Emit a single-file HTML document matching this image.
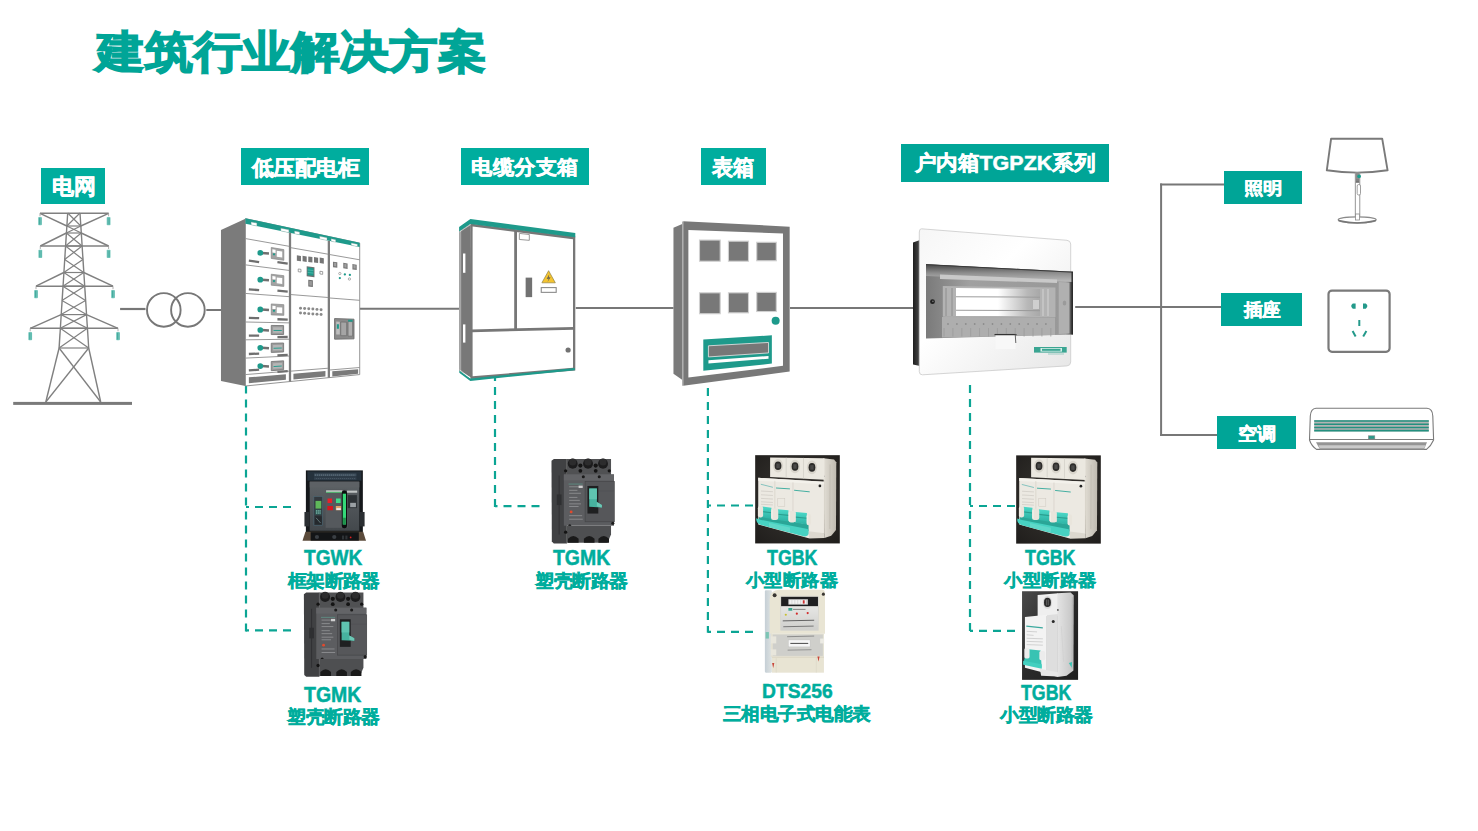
<!DOCTYPE html>
<html><head><meta charset="utf-8"><style>
html,body{margin:0;padding:0;background:#fff;}
body{width:1478px;height:831px;position:relative;overflow:hidden;font-family:"Liberation Sans",sans-serif;}
.bx{position:absolute;}
.t{position:absolute;white-space:nowrap;line-height:1;font-weight:bold;transform-origin:0 0;}
svg{position:absolute;left:0;top:0;}
</style></head><body>

<svg width="1478" height="831" viewBox="0 0 1478 831"><line x1="359.70" y1="308.80" x2="459.00" y2="308.80" stroke="#777" stroke-width="2" /><line x1="575.80" y1="308.00" x2="673.50" y2="308.00" stroke="#777" stroke-width="2" /><line x1="790.00" y1="307.90" x2="913.50" y2="307.90" stroke="#777" stroke-width="2" /><line x1="1161.10" y1="183.50" x2="1161.10" y2="436.00" stroke="#777" stroke-width="2" /><line x1="1160.10" y1="184.40" x2="1225.00" y2="184.40" stroke="#777" stroke-width="2" /><line x1="1160.10" y1="435.00" x2="1218.00" y2="435.00" stroke="#777" stroke-width="2" /><line x1="1075.20" y1="307.00" x2="1222.00" y2="307.00" stroke="#777" stroke-width="2" /><line x1="246.00" y1="385.40" x2="246.00" y2="631.50" stroke="#0BA594" stroke-width="2.2" stroke-dasharray="8 6"/><line x1="291.00" y1="507.00" x2="246.00" y2="507.00" stroke="#0BA594" stroke-width="2.2" stroke-dasharray="8 6"/><line x1="291.00" y1="630.40" x2="246.00" y2="630.40" stroke="#0BA594" stroke-width="2.2" stroke-dasharray="8 6"/><line x1="495.00" y1="373.00" x2="495.00" y2="507.20" stroke="#0BA594" stroke-width="2.2" stroke-dasharray="8 6"/><line x1="539.50" y1="506.20" x2="495.00" y2="506.20" stroke="#0BA594" stroke-width="2.2" stroke-dasharray="8 6"/><line x1="707.90" y1="388.00" x2="707.90" y2="632.80" stroke="#0BA594" stroke-width="2.2" stroke-dasharray="8 6"/><line x1="753.00" y1="505.50" x2="707.90" y2="505.50" stroke="#0BA594" stroke-width="2.2" stroke-dasharray="8 6"/><line x1="753.00" y1="631.80" x2="707.90" y2="631.80" stroke="#0BA594" stroke-width="2.2" stroke-dasharray="8 6"/><line x1="970.00" y1="385.10" x2="970.00" y2="631.80" stroke="#0BA594" stroke-width="2.2" stroke-dasharray="8 6"/><line x1="1015.00" y1="506.00" x2="970.00" y2="506.00" stroke="#0BA594" stroke-width="2.2" stroke-dasharray="8 6"/><line x1="1015.00" y1="630.80" x2="970.00" y2="630.80" stroke="#0BA594" stroke-width="2.2" stroke-dasharray="8 6"/><line x1="67.70" y1="213.00" x2="59.10" y2="348.00" stroke="#808080" stroke-width="1.4" /><line x1="80.00" y1="213.00" x2="88.70" y2="348.00" stroke="#808080" stroke-width="1.4" /><line x1="66.85" y1="226.00" x2="80.82" y2="226.00" stroke="#808080" stroke-width="1.2" /><line x1="66.39" y1="233.00" x2="81.26" y2="233.00" stroke="#808080" stroke-width="1.2" /><line x1="65.54" y1="246.00" x2="82.09" y2="246.00" stroke="#808080" stroke-width="1.2" /><line x1="63.80" y1="272.50" x2="83.76" y2="272.50" stroke="#808080" stroke-width="1.2" /><line x1="62.90" y1="286.20" x2="84.63" y2="286.20" stroke="#808080" stroke-width="1.2" /><line x1="61.12" y1="314.60" x2="86.47" y2="314.60" stroke="#808080" stroke-width="1.2" /><line x1="60.29" y1="328.30" x2="87.39" y2="328.30" stroke="#808080" stroke-width="1.2" /><line x1="59.10" y1="348.00" x2="88.70" y2="348.00" stroke="#808080" stroke-width="1.2" /><line x1="67.70" y1="213.00" x2="80.82" y2="226.00" stroke="#808080" stroke-width="1.2" /><line x1="80.00" y1="213.00" x2="66.85" y2="226.00" stroke="#808080" stroke-width="1.2" /><line x1="66.85" y1="226.00" x2="81.26" y2="233.00" stroke="#808080" stroke-width="1.2" /><line x1="80.82" y1="226.00" x2="66.39" y2="233.00" stroke="#808080" stroke-width="1.2" /><line x1="66.39" y1="233.00" x2="82.09" y2="246.00" stroke="#808080" stroke-width="1.2" /><line x1="81.26" y1="233.00" x2="65.54" y2="246.00" stroke="#808080" stroke-width="1.2" /><line x1="65.54" y1="246.00" x2="82.94" y2="259.50" stroke="#808080" stroke-width="1.2" /><line x1="82.09" y1="246.00" x2="64.65" y2="259.50" stroke="#808080" stroke-width="1.2" /><line x1="64.65" y1="259.50" x2="83.76" y2="272.50" stroke="#808080" stroke-width="1.2" /><line x1="82.94" y1="259.50" x2="63.80" y2="272.50" stroke="#808080" stroke-width="1.2" /><line x1="63.80" y1="272.50" x2="84.63" y2="286.20" stroke="#808080" stroke-width="1.2" /><line x1="83.76" y1="272.50" x2="62.90" y2="286.20" stroke="#808080" stroke-width="1.2" /><line x1="62.90" y1="286.20" x2="85.53" y2="300.40" stroke="#808080" stroke-width="1.2" /><line x1="84.63" y1="286.20" x2="61.98" y2="300.40" stroke="#808080" stroke-width="1.2" /><line x1="61.98" y1="300.40" x2="86.47" y2="314.60" stroke="#808080" stroke-width="1.2" /><line x1="85.53" y1="300.40" x2="61.12" y2="314.60" stroke="#808080" stroke-width="1.2" /><line x1="61.12" y1="314.60" x2="87.39" y2="328.30" stroke="#808080" stroke-width="1.2" /><line x1="86.47" y1="314.60" x2="60.29" y2="328.30" stroke="#808080" stroke-width="1.2" /><line x1="60.29" y1="328.30" x2="88.70" y2="348.00" stroke="#808080" stroke-width="1.2" /><line x1="87.39" y1="328.30" x2="59.10" y2="348.00" stroke="#808080" stroke-width="1.2" /><line x1="40.00" y1="213.30" x2="108.60" y2="213.30" stroke="#808080" stroke-width="1.4" /><line x1="40.00" y1="213.30" x2="66.85" y2="226.00" stroke="#808080" stroke-width="1.4" /><line x1="108.60" y1="213.30" x2="80.82" y2="226.00" stroke="#808080" stroke-width="1.4" /><line x1="40.00" y1="213.30" x2="40.00" y2="216.30" stroke="#9a9a9a" stroke-width="0.8" /><rect x="38.10" y="217.10" width="3.80" height="8.20" fill="#7ccbc0" stroke="none" stroke-width="1" rx="0.8"/><line x1="39.50" y1="217.80" x2="39.50" y2="224.60" stroke="#2f9d90" stroke-width="0.7" /><line x1="40.90" y1="217.80" x2="40.90" y2="224.60" stroke="#2f9d90" stroke-width="0.5" /><line x1="108.60" y1="213.30" x2="108.60" y2="216.30" stroke="#9a9a9a" stroke-width="0.8" /><rect x="106.70" y="217.10" width="3.80" height="8.20" fill="#7ccbc0" stroke="none" stroke-width="1" rx="0.8"/><line x1="108.10" y1="217.80" x2="108.10" y2="224.60" stroke="#2f9d90" stroke-width="0.7" /><line x1="109.50" y1="217.80" x2="109.50" y2="224.60" stroke="#2f9d90" stroke-width="0.5" /><line x1="40.30" y1="246.00" x2="108.60" y2="246.00" stroke="#808080" stroke-width="1.4" /><line x1="40.30" y1="246.00" x2="66.39" y2="233.00" stroke="#808080" stroke-width="1.4" /><line x1="108.60" y1="246.00" x2="81.26" y2="233.00" stroke="#808080" stroke-width="1.4" /><line x1="40.30" y1="246.00" x2="40.30" y2="249.00" stroke="#9a9a9a" stroke-width="0.8" /><rect x="38.40" y="249.80" width="3.80" height="8.20" fill="#7ccbc0" stroke="none" stroke-width="1" rx="0.8"/><line x1="39.80" y1="250.50" x2="39.80" y2="257.30" stroke="#2f9d90" stroke-width="0.7" /><line x1="41.20" y1="250.50" x2="41.20" y2="257.30" stroke="#2f9d90" stroke-width="0.5" /><line x1="108.60" y1="246.00" x2="108.60" y2="249.00" stroke="#9a9a9a" stroke-width="0.8" /><rect x="106.70" y="249.80" width="3.80" height="8.20" fill="#7ccbc0" stroke="none" stroke-width="1" rx="0.8"/><line x1="108.10" y1="250.50" x2="108.10" y2="257.30" stroke="#2f9d90" stroke-width="0.7" /><line x1="109.50" y1="250.50" x2="109.50" y2="257.30" stroke="#2f9d90" stroke-width="0.5" /><line x1="36.00" y1="286.20" x2="113.00" y2="286.20" stroke="#808080" stroke-width="1.4" /><line x1="36.00" y1="286.20" x2="63.80" y2="272.50" stroke="#808080" stroke-width="1.4" /><line x1="113.00" y1="286.20" x2="83.76" y2="272.50" stroke="#808080" stroke-width="1.4" /><line x1="36.00" y1="286.20" x2="36.00" y2="289.20" stroke="#9a9a9a" stroke-width="0.8" /><rect x="34.10" y="290.00" width="3.80" height="8.20" fill="#7ccbc0" stroke="none" stroke-width="1" rx="0.8"/><line x1="35.50" y1="290.70" x2="35.50" y2="297.50" stroke="#2f9d90" stroke-width="0.7" /><line x1="36.90" y1="290.70" x2="36.90" y2="297.50" stroke="#2f9d90" stroke-width="0.5" /><line x1="113.00" y1="286.20" x2="113.00" y2="289.20" stroke="#9a9a9a" stroke-width="0.8" /><rect x="111.10" y="290.00" width="3.80" height="8.20" fill="#7ccbc0" stroke="none" stroke-width="1" rx="0.8"/><line x1="112.50" y1="290.70" x2="112.50" y2="297.50" stroke="#2f9d90" stroke-width="0.7" /><line x1="113.90" y1="290.70" x2="113.90" y2="297.50" stroke="#2f9d90" stroke-width="0.5" /><line x1="30.20" y1="328.30" x2="118.00" y2="328.30" stroke="#808080" stroke-width="1.4" /><line x1="30.20" y1="328.30" x2="61.12" y2="314.60" stroke="#808080" stroke-width="1.4" /><line x1="118.00" y1="328.30" x2="86.47" y2="314.60" stroke="#808080" stroke-width="1.4" /><line x1="30.20" y1="328.30" x2="30.20" y2="331.30" stroke="#9a9a9a" stroke-width="0.8" /><rect x="28.30" y="332.10" width="3.80" height="8.20" fill="#7ccbc0" stroke="none" stroke-width="1" rx="0.8"/><line x1="29.70" y1="332.80" x2="29.70" y2="339.60" stroke="#2f9d90" stroke-width="0.7" /><line x1="31.10" y1="332.80" x2="31.10" y2="339.60" stroke="#2f9d90" stroke-width="0.5" /><line x1="118.00" y1="328.30" x2="118.00" y2="331.30" stroke="#9a9a9a" stroke-width="0.8" /><rect x="116.10" y="332.10" width="3.80" height="8.20" fill="#7ccbc0" stroke="none" stroke-width="1" rx="0.8"/><line x1="117.50" y1="332.80" x2="117.50" y2="339.60" stroke="#2f9d90" stroke-width="0.7" /><line x1="118.90" y1="332.80" x2="118.90" y2="339.60" stroke="#2f9d90" stroke-width="0.5" /><line x1="59.10" y1="348.00" x2="45.80" y2="402.00" stroke="#808080" stroke-width="1.4" /><line x1="88.70" y1="348.00" x2="100.70" y2="402.00" stroke="#808080" stroke-width="1.4" /><line x1="59.10" y1="348.00" x2="100.70" y2="402.00" stroke="#808080" stroke-width="1.3" /><line x1="88.70" y1="348.00" x2="45.80" y2="402.00" stroke="#808080" stroke-width="1.3" /><rect x="13.20" y="401.90" width="118.80" height="3.00" fill="#7a7a7a" stroke="none" stroke-width="1" /><line x1="120.10" y1="309.00" x2="145.50" y2="309.00" stroke="#777" stroke-width="2.2" /><circle cx="163.80" cy="309.90" r="16.80" fill="none" stroke="#777" stroke-width="1.9" /><circle cx="187.90" cy="309.90" r="16.80" fill="none" stroke="#777" stroke-width="1.9" /><line x1="206.30" y1="310.00" x2="222.00" y2="310.00" stroke="#777" stroke-width="2" /><g transform="translate(210,210) scale(0.22857)"><polygon points="48.00,88.00 155.00,38.00 155.00,770.00 48.00,748.00" fill="#7b7b7b" stroke="none" stroke-width="1" /><polygon points="155.00,38.00 655.00,145.00 655.00,720.00 155.00,770.00" fill="#fff" stroke="#8a8a8a" stroke-width="4" /><polygon points="155.00,36.00 655.00,143.00 655.00,162.00 155.00,60.00" fill="#1E9A8B" stroke="none" stroke-width="1" /><polygon points="180.00,52.04 205.00,57.30 205.00,70.19 180.00,65.07" fill="#fff" stroke="#7a9a95" stroke-width="1.5" /><polygon points="310.00,79.37 345.00,86.73 345.00,98.83 310.00,91.67" fill="#fff" stroke="#7a9a95" stroke-width="1.5" /><polygon points="370.00,91.98 392.00,96.61 392.00,108.45 370.00,103.94" fill="#fff" stroke="#7a9a95" stroke-width="1.5" /><polygon points="480.00,115.11 512.00,121.84 512.00,133.00 480.00,126.45" fill="#fff" stroke="#7a9a95" stroke-width="1.5" /><polygon points="530.00,125.62 550.00,129.83 550.00,140.77 530.00,136.68" fill="#fff" stroke="#7a9a95" stroke-width="1.5" /><polygon points="618.00,144.12 645.00,149.80 645.00,160.20 618.00,154.68" fill="#fff" stroke="#7a9a95" stroke-width="1.5" /><line x1="350.00" y1="99.85" x2="350.00" y2="750.50" stroke="#7d7d7d" stroke-width="10" /><line x1="520.00" y1="134.63" x2="520.00" y2="733.50" stroke="#7d7d7d" stroke-width="10" /><line x1="155.00" y1="125.00" x2="346.00" y2="158.75" stroke="#8f8f8f" stroke-width="4" /><line x1="155.00" y1="240.00" x2="346.00" y2="264.32" stroke="#8f8f8f" stroke-width="4" /><line x1="155.00" y1="365.00" x2="346.00" y2="379.08" stroke="#8f8f8f" stroke-width="4" /><line x1="155.00" y1="490.00" x2="346.00" y2="493.84" stroke="#8f8f8f" stroke-width="4" /><line x1="155.00" y1="568.00" x2="346.00" y2="565.45" stroke="#8f8f8f" stroke-width="4" /><line x1="155.00" y1="648.00" x2="346.00" y2="638.90" stroke="#8f8f8f" stroke-width="4" /><line x1="155.00" y1="720.00" x2="346.00" y2="705.00" stroke="#8f8f8f" stroke-width="4" /><line x1="226.00" y1="188.00" x2="258.00" y2="190.00" stroke="#707070" stroke-width="11" /><circle cx="220.00" cy="188.00" r="12.50" fill="#1E9A8B" stroke="none" stroke-width="1" /><polygon points="268.00,164.00 323.00,173.25 323.00,220.06 268.00,212.00" fill="#a3a3a3" stroke="#858585" stroke-width="3" /><polygon points="292.00,178.00 316.00,181.93 316.00,207.64 292.00,204.00" fill="#fff" stroke="none" stroke-width="1" /><polygon points="273.00,172.00 287.00,174.31 287.00,188.22 273.00,186.00" fill="#fff" stroke="none" stroke-width="1" /><circle cx="280.00" cy="194.00" r="5.00" fill="#1E9A8B" stroke="none" stroke-width="1" /><line x1="170.00" y1="222.00" x2="215.00" y2="228.12" stroke="#6f6f6f" stroke-width="10" /><line x1="295.00" y1="228.00" x2="340.00" y2="234.34" stroke="#6f6f6f" stroke-width="10" /><line x1="226.00" y1="305.00" x2="258.00" y2="307.00" stroke="#707070" stroke-width="11" /><circle cx="220.00" cy="305.00" r="12.50" fill="#1E9A8B" stroke="none" stroke-width="1" /><polygon points="268.00,281.00 323.00,287.34 323.00,334.15 268.00,329.00" fill="#a3a3a3" stroke="#858585" stroke-width="3" /><polygon points="292.00,295.00 316.00,297.65 316.00,323.36 292.00,321.00" fill="#fff" stroke="none" stroke-width="1" /><polygon points="273.00,289.00 287.00,290.57 287.00,304.48 273.00,303.00" fill="#fff" stroke="none" stroke-width="1" /><circle cx="280.00" cy="311.00" r="5.00" fill="#1E9A8B" stroke="none" stroke-width="1" /><line x1="170.00" y1="347.00" x2="215.00" y2="350.69" stroke="#6f6f6f" stroke-width="10" /><line x1="295.00" y1="353.00" x2="340.00" y2="356.78" stroke="#6f6f6f" stroke-width="10" /><line x1="226.00" y1="435.00" x2="258.00" y2="437.00" stroke="#707070" stroke-width="11" /><circle cx="220.00" cy="435.00" r="12.50" fill="#1E9A8B" stroke="none" stroke-width="1" /><polygon points="268.00,411.00 323.00,414.12 323.00,460.93 268.00,459.00" fill="#a3a3a3" stroke="#858585" stroke-width="3" /><polygon points="292.00,425.00 316.00,426.22 316.00,451.94 292.00,451.00" fill="#fff" stroke="none" stroke-width="1" /><polygon points="273.00,419.00 287.00,419.75 287.00,433.66 273.00,433.00" fill="#fff" stroke="none" stroke-width="1" /><circle cx="280.00" cy="441.00" r="5.00" fill="#1E9A8B" stroke="none" stroke-width="1" /><line x1="170.00" y1="472.00" x2="215.00" y2="473.26" stroke="#6f6f6f" stroke-width="10" /><line x1="295.00" y1="478.00" x2="340.00" y2="479.21" stroke="#6f6f6f" stroke-width="10" /><line x1="226.00" y1="525.00" x2="258.00" y2="527.00" stroke="#707070" stroke-width="11" /><circle cx="220.00" cy="525.00" r="12.50" fill="#1E9A8B" stroke="none" stroke-width="1" /><polygon points="268.00,505.00 322.00,505.78 322.00,544.80 268.00,545.00" fill="#9a9a9a" stroke="#7a7a7a" stroke-width="4" /><polygon points="276.00,513.00 316.00,513.43 316.00,537.00 276.00,537.00" fill="#b5b5b5" stroke="none" stroke-width="1" /><line x1="278.00" y1="527.00" x2="314.00" y2="527.16" stroke="#1E9A8B" stroke-width="4" /><line x1="170.00" y1="550.00" x2="215.00" y2="549.75" stroke="#6f6f6f" stroke-width="10" /><line x1="295.00" y1="556.00" x2="340.00" y2="555.61" stroke="#6f6f6f" stroke-width="10" /><line x1="226.00" y1="603.00" x2="258.00" y2="605.00" stroke="#707070" stroke-width="11" /><circle cx="220.00" cy="603.00" r="12.50" fill="#1E9A8B" stroke="none" stroke-width="1" /><polygon points="268.00,583.00 322.00,581.88 322.00,620.90 268.00,623.00" fill="#9a9a9a" stroke="#7a7a7a" stroke-width="4" /><polygon points="276.00,591.00 316.00,590.02 316.00,613.59 276.00,615.00" fill="#b5b5b5" stroke="none" stroke-width="1" /><line x1="278.00" y1="605.00" x2="314.00" y2="603.89" stroke="#1E9A8B" stroke-width="4" /><line x1="170.00" y1="630.00" x2="215.00" y2="628.19" stroke="#6f6f6f" stroke-width="10" /><line x1="295.00" y1="636.00" x2="340.00" y2="633.96" stroke="#6f6f6f" stroke-width="10" /><line x1="226.00" y1="683.00" x2="258.00" y2="685.00" stroke="#707070" stroke-width="11" /><circle cx="220.00" cy="683.00" r="12.50" fill="#1E9A8B" stroke="none" stroke-width="1" /><polygon points="268.00,663.00 322.00,659.93 322.00,698.96 268.00,703.00" fill="#9a9a9a" stroke="#7a7a7a" stroke-width="4" /><polygon points="276.00,671.00 316.00,668.57 316.00,692.14 276.00,695.00" fill="#b5b5b5" stroke="none" stroke-width="1" /><line x1="278.00" y1="685.00" x2="314.00" y2="682.59" stroke="#1E9A8B" stroke-width="4" /><line x1="170.00" y1="702.00" x2="215.00" y2="698.79" stroke="#6f6f6f" stroke-width="10" /><line x1="295.00" y1="708.00" x2="340.00" y2="704.49" stroke="#6f6f6f" stroke-width="10" /><polygon points="170.00,732.00 332.00,718.35 332.00,742.53 170.00,758.00" fill="#7a7a7a" stroke="none" stroke-width="1" /><line x1="354.00" y1="165.00" x2="516.00" y2="193.25" stroke="#8f8f8f" stroke-width="4" /><line x1="354.00" y1="370.00" x2="516.00" y2="382.68" stroke="#8f8f8f" stroke-width="4" /><line x1="354.00" y1="705.00" x2="516.00" y2="692.23" stroke="#8f8f8f" stroke-width="4" /><polygon points="380.00,198.00 398.00,200.90 398.00,224.69 380.00,222.00" fill="#767676" stroke="none" stroke-width="1" /><polygon points="405.00,200.50 423.00,203.41 423.00,227.20 405.00,224.50" fill="#767676" stroke="none" stroke-width="1" /><polygon points="430.00,203.00 448.00,205.92 448.00,229.71 430.00,227.00" fill="#767676" stroke="none" stroke-width="1" /><polygon points="455.00,205.50 473.00,208.44 473.00,232.22 455.00,229.50" fill="#767676" stroke="none" stroke-width="1" /><polygon points="480.00,208.00 498.00,210.95 498.00,234.74 480.00,232.00" fill="#767676" stroke="none" stroke-width="1" /><polygon points="386.00,258.00 398.00,259.59 398.00,271.52 386.00,270.00" fill="#fff" stroke="#777" stroke-width="3" /><polygon points="481.00,268.00 493.00,269.61 493.00,281.54 481.00,280.00" fill="#fff" stroke="#777" stroke-width="3" /><polygon points="423.00,246.00 457.00,250.79 457.00,294.07 423.00,290.00" fill="#6f6f6f" stroke="none" stroke-width="1" /><polygon points="427.00,251.00 453.00,254.61 453.00,288.18 427.00,285.00" fill="#1E9A8B" stroke="none" stroke-width="1" /><line x1="427.00" y1="262.00" x2="453.00" y2="265.47" stroke="#7fcfc5" stroke-width="2" /><line x1="427.00" y1="273.00" x2="453.00" y2="276.33" stroke="#7fcfc5" stroke-width="2" /><polygon points="430.00,305.00 450.00,307.26 450.00,336.96 430.00,335.00" fill="#6f6f6f" stroke="none" stroke-width="1" /><polygon points="434.00,310.00 446.00,311.33 446.00,331.21 434.00,330.00" fill="#9a9a9a" stroke="none" stroke-width="1" /><circle cx="396.00" cy="430.00" r="6.50" fill="#8a8a8a" stroke="none" stroke-width="1" /><circle cx="414.00" cy="431.20" r="6.50" fill="#8a8a8a" stroke="none" stroke-width="1" /><circle cx="432.00" cy="432.40" r="6.50" fill="#8a8a8a" stroke="none" stroke-width="1" /><circle cx="450.00" cy="433.60" r="6.50" fill="#8a8a8a" stroke="none" stroke-width="1" /><circle cx="468.00" cy="434.80" r="6.50" fill="#8a8a8a" stroke="none" stroke-width="1" /><circle cx="486.00" cy="436.00" r="6.50" fill="#8a8a8a" stroke="none" stroke-width="1" /><circle cx="396.00" cy="451.00" r="6.50" fill="#8a8a8a" stroke="none" stroke-width="1" /><circle cx="414.00" cy="452.20" r="6.50" fill="#8a8a8a" stroke="none" stroke-width="1" /><circle cx="432.00" cy="453.40" r="6.50" fill="#8a8a8a" stroke="none" stroke-width="1" /><circle cx="450.00" cy="454.60" r="6.50" fill="#8a8a8a" stroke="none" stroke-width="1" /><circle cx="468.00" cy="455.80" r="6.50" fill="#8a8a8a" stroke="none" stroke-width="1" /><circle cx="486.00" cy="457.00" r="6.50" fill="#8a8a8a" stroke="none" stroke-width="1" /><polygon points="365.00,716.00 505.00,704.18 505.00,728.46 365.00,742.00" fill="#7a7a7a" stroke="none" stroke-width="1" /><line x1="524.00" y1="195.00" x2="655.00" y2="217.82" stroke="#8f8f8f" stroke-width="4" /><line x1="524.00" y1="385.00" x2="655.00" y2="395.14" stroke="#8f8f8f" stroke-width="4" /><line x1="524.00" y1="700.00" x2="655.00" y2="689.11" stroke="#8f8f8f" stroke-width="4" /><polygon points="538.00,226.00 557.00,229.03 557.00,252.80 538.00,250.00" fill="#7a7a7a" stroke="none" stroke-width="1" /><polygon points="543.00,231.00 552.00,232.42 552.00,246.35 543.00,245.00" fill="#a0a0a0" stroke="none" stroke-width="1" /><polygon points="583.00,231.00 602.00,234.05 602.00,257.81 583.00,255.00" fill="#7a7a7a" stroke="none" stroke-width="1" /><polygon points="588.00,236.00 597.00,237.43 597.00,251.36 588.00,250.00" fill="#a0a0a0" stroke="none" stroke-width="1" /><polygon points="623.00,236.00 642.00,239.07 642.00,262.82 623.00,260.00" fill="#7a7a7a" stroke="none" stroke-width="1" /><polygon points="628.00,241.00 637.00,242.43 637.00,256.37 628.00,255.00" fill="#a0a0a0" stroke="none" stroke-width="1" /><circle cx="568.00" cy="278.00" r="5.00" fill="#fff" stroke="#777" stroke-width="2.5" /><circle cx="590.00" cy="282.00" r="5.00" fill="#1E9A8B" stroke="none" stroke-width="1" /><circle cx="612.00" cy="284.00" r="5.00" fill="#1E9A8B" stroke="none" stroke-width="1" /><circle cx="568.00" cy="298.00" r="5.00" fill="#1E9A8B" stroke="none" stroke-width="1" /><circle cx="610.00" cy="302.00" r="5.00" fill="#fff" stroke="#777" stroke-width="2.5" /><polygon points="545.00,475.00 630.00,477.71 630.00,563.77 545.00,565.00" fill="#8a8a8a" stroke="#6f6f6f" stroke-width="4" /><polygon points="552.00,488.00 568.00,488.40 568.00,544.93 552.00,545.00" fill="#bdbdbd" stroke="none" stroke-width="1" /><polygon points="555.00,500.00 564.00,500.17 564.00,520.08 555.00,520.00" fill="#1E9A8B" stroke="none" stroke-width="1" /><polygon points="572.00,490.00 598.00,490.64 598.00,549.82 572.00,550.00" fill="#a5a5a5" stroke="#6a6a6a" stroke-width="3" /><polygon points="604.00,488.00 624.00,488.52 624.00,551.84 604.00,552.00" fill="#b0b0b0" stroke="#6a6a6a" stroke-width="3" /><polygon points="604.00,480.00 624.00,480.60 624.00,488.52 604.00,488.00" fill="#1E9A8B" stroke="none" stroke-width="1" /><polygon points="535.00,706.00 648.00,696.21 648.00,716.93 535.00,728.00" fill="#7a7a7a" stroke="none" stroke-width="1" /></g><polygon points="459.10,231.00 470.60,224.00 471.80,378.00 459.30,370.50" fill="#787878" stroke="none" stroke-width="1" /><polygon points="459.10,231.00 461.20,229.50 461.20,371.50 459.30,370.50" fill="#a8a8a8" stroke="none" stroke-width="1" /><polygon points="470.40,223.50 575.30,236.50 575.30,370.50 470.40,379.00" fill="#777" stroke="none" stroke-width="1" /><polygon points="472.60,226.60 573.00,239.30 573.00,367.80 472.60,376.30" fill="#fff" stroke="none" stroke-width="1" /><polygon points="459.10,227.00 470.40,219.10 575.30,233.00 575.30,237.20 470.40,224.10 459.10,231.50" fill="#1E9A8B" stroke="none" stroke-width="1" /><line x1="459.60" y1="231.80" x2="470.60" y2="224.60" stroke="#ffffff" stroke-width="0.6" /><polygon points="459.30,370.40 470.30,378.60 574.80,368.00 574.80,370.30 470.30,380.90 459.30,372.80" fill="#1E9A8B" stroke="none" stroke-width="1" /><line x1="459.80" y1="370.00" x2="470.30" y2="377.80" stroke="#ffffff" stroke-width="0.6" /><rect x="463.00" y="253.50" width="2.40" height="19.30" fill="#fff" stroke="none" stroke-width="1" /><rect x="463.00" y="324.40" width="2.40" height="18.20" fill="#fff" stroke="none" stroke-width="1" /><line x1="515.60" y1="231.00" x2="515.60" y2="330.00" stroke="#777" stroke-width="2.8" /><line x1="471.50" y1="330.80" x2="574.00" y2="328.30" stroke="#777" stroke-width="2.8" /><g transform="translate(450,210) scale(0.21673)"><polygon points="320.00,108.00 366.00,113.00 366.00,140.00 320.00,136.00" fill="#fff" stroke="#888" stroke-width="4" /><rect x="349.00" y="312.00" width="30.00" height="90.00" fill="#727272" stroke="none" stroke-width="1" /><polygon points="424.00,336.00 455.00,280.00 486.00,336.00" fill="#F4C430" stroke="#8a7a40" stroke-width="3" stroke-linejoin="round"/><polygon points="458.00,296.00 446.00,318.00 456.00,316.00 450.00,332.00 464.00,310.00 455.00,312.00" fill="#555" stroke="none" stroke-width="1" /><rect x="421.00" y="358.00" width="69.00" height="22.00" fill="#fff" stroke="#8a8a8a" stroke-width="5" /><circle cx="545.00" cy="646.00" r="12.00" fill="#727272" stroke="none" stroke-width="1" /></g><g transform="translate(665,210) scale(0.22262)"><polygon points="38.00,80.00 80.00,62.00 80.00,765.00 38.00,735.00" fill="#7a7a7a" stroke="none" stroke-width="1" /><line x1="79.00" y1="52.00" x2="79.00" y2="790.00" stroke="#b0b0b0" stroke-width="5" /><polygon points="82.00,50.00 560.00,75.00 560.00,725.00 82.00,790.00" fill="#787878" stroke="none" stroke-width="1" /><polygon points="105.00,90.00 530.00,105.00 530.00,700.00 105.00,752.00" fill="#fff" stroke="none" stroke-width="1" /><rect x="155.00" y="135.00" width="93.00" height="95.00" fill="#787878" stroke="#d0d0d0" stroke-width="5" /><rect x="285.00" y="140.00" width="90.00" height="90.00" fill="#787878" stroke="#d0d0d0" stroke-width="5" /><rect x="412.00" y="145.00" width="88.00" height="83.00" fill="#787878" stroke="#d0d0d0" stroke-width="5" /><rect x="155.00" y="372.00" width="93.00" height="94.00" fill="#787878" stroke="#d0d0d0" stroke-width="5" /><rect x="285.00" y="372.00" width="90.00" height="90.00" fill="#787878" stroke="#d0d0d0" stroke-width="5" /><rect x="412.00" y="370.00" width="88.00" height="86.00" fill="#787878" stroke="#d0d0d0" stroke-width="5" /><circle cx="497.00" cy="497.00" r="18.00" fill="#1E9A8B" stroke="none" stroke-width="1" /><polygon points="172.00,582.00 480.00,563.00 480.00,690.00 172.00,722.00" fill="#1E9A8B" stroke="none" stroke-width="1" /><polygon points="195.00,610.00 465.00,595.00 465.00,642.00 195.00,660.00" fill="#777" stroke="#ddd" stroke-width="4" /><polygon points="195.00,675.00 465.00,656.00 465.00,668.00 195.00,690.00" fill="#fff" stroke="none" stroke-width="1" /></g><defs>
    <linearGradient id="ibw" x1="0" y1="0" x2="1" y2="1"><stop offset="0" stop-color="#f6f6f6"/><stop offset="0.4" stop-color="#ffffff"/><stop offset="1" stop-color="#e6e6e6"/></linearGradient>
    <linearGradient id="ibtop" x1="0" y1="0" x2="0" y2="1"><stop offset="0" stop-color="#444"/><stop offset="0.5" stop-color="#8e8e8e"/><stop offset="1" stop-color="#bdbdbd"/></linearGradient>
    <linearGradient id="ibin" x1="0" y1="0" x2="1" y2="0"><stop offset="0" stop-color="#7a7a7a"/><stop offset="0.3" stop-color="#a0a0a0"/><stop offset="0.95" stop-color="#989898"/><stop offset="1" stop-color="#3a3a3a"/></linearGradient>
    <linearGradient id="ibl" x1="0" y1="0" x2="1" y2="0"><stop offset="0" stop-color="#ffffff"/><stop offset="0.5" stop-color="#ffffff"/><stop offset="0.85" stop-color="#b8b8b8"/><stop offset="1" stop-color="#a8a8a8"/></linearGradient>
    <linearGradient id="ibs" x1="0" y1="0" x2="1" y2="0"><stop offset="0" stop-color="#1e1e1e"/><stop offset="1" stop-color="#4a4a4a"/></linearGradient>
    </defs><polygon points="913.00,242.50 920.00,240.00 920.00,366.00 913.00,364.50" fill="url(#ibs)" stroke="none" stroke-width="1" /><path d="M921.5,228.8 L1067,240.3 Q1070.6,240.8 1070.7,244 L1070.7,362 Q1070.6,365.6 1067,365.9 L922.5,374.8 Q919.3,375 919.3,371.5 L919.3,232 Q919.4,228.6 921.5,228.8 Z" fill="url(#ibw)" stroke="#cfcfcf" stroke-width="0.9"/><polygon points="926.00,264.20 1073.00,271.80 1073.00,334.60 926.00,338.40" fill="url(#ibin)" stroke="none" stroke-width="1" /><polygon points="926.00,264.20 1073.00,271.80 1073.00,282.00 926.00,276.00" fill="url(#ibtop)" stroke="none" stroke-width="1" /><line x1="926.00" y1="264.60" x2="1073.00" y2="272.20" stroke="#3a3a3a" stroke-width="1" /><polygon points="940.00,274.50 1057.00,279.50 1057.00,283.00 940.00,279.00" fill="#c9c9c9" stroke="none" stroke-width="1" /><polygon points="942.80,285.90 1055.40,287.50 1055.40,317.00 942.80,316.80" fill="#b3b3b3" stroke="none" stroke-width="1" /><polygon points="956.00,288.00 1040.00,289.00 1040.00,316.00 956.00,316.00" fill="url(#ibl)" stroke="none" stroke-width="1" /><line x1="956.00" y1="296.70" x2="1040.00" y2="297.20" stroke="#9c9c9c" stroke-width="1.1" /><line x1="956.00" y1="310.30" x2="1040.00" y2="310.60" stroke="#9c9c9c" stroke-width="1.1" /><line x1="946.00" y1="288.00" x2="946.00" y2="316.00" stroke="#8a8a8a" stroke-width="0.9" /><line x1="952.00" y1="288.00" x2="952.00" y2="316.00" stroke="#8a8a8a" stroke-width="0.9" /><line x1="1043.00" y1="289.00" x2="1043.00" y2="316.00" stroke="#c8c8c8" stroke-width="1.5" /><line x1="1048.00" y1="289.00" x2="1048.00" y2="316.00" stroke="#c8c8c8" stroke-width="1.5" /><rect x="1033.00" y="300.00" width="6.00" height="9.00" fill="#cfcfcf" stroke="none" stroke-width="1" /><polygon points="942.00,317.00 1055.00,317.50 1055.00,335.00 942.00,337.50" fill="#aeaeae" stroke="none" stroke-width="1" /><line x1="944.00" y1="328.00" x2="944.00" y2="336.50" stroke="#9a9a9a" stroke-width="0.8" /><line x1="952.90" y1="328.00" x2="952.90" y2="336.50" stroke="#9a9a9a" stroke-width="0.8" /><line x1="961.80" y1="328.00" x2="961.80" y2="336.50" stroke="#9a9a9a" stroke-width="0.8" /><line x1="970.70" y1="328.00" x2="970.70" y2="336.50" stroke="#9a9a9a" stroke-width="0.8" /><line x1="979.60" y1="328.00" x2="979.60" y2="336.50" stroke="#9a9a9a" stroke-width="0.8" /><line x1="988.50" y1="328.00" x2="988.50" y2="336.50" stroke="#9a9a9a" stroke-width="0.8" /><line x1="997.40" y1="328.00" x2="997.40" y2="336.50" stroke="#9a9a9a" stroke-width="0.8" /><line x1="1006.30" y1="328.00" x2="1006.30" y2="336.50" stroke="#9a9a9a" stroke-width="0.8" /><line x1="1015.20" y1="328.00" x2="1015.20" y2="336.50" stroke="#9a9a9a" stroke-width="0.8" /><line x1="1024.10" y1="328.00" x2="1024.10" y2="336.50" stroke="#9a9a9a" stroke-width="0.8" /><line x1="1033.00" y1="328.00" x2="1033.00" y2="336.50" stroke="#9a9a9a" stroke-width="0.8" /><line x1="1041.90" y1="328.00" x2="1041.90" y2="336.50" stroke="#9a9a9a" stroke-width="0.8" /><line x1="1050.80" y1="328.00" x2="1050.80" y2="336.50" stroke="#9a9a9a" stroke-width="0.8" /><circle cx="948.00" cy="324.00" r="0.90" fill="#8c8c8c" stroke="none" stroke-width="1" /><circle cx="956.90" cy="324.00" r="0.90" fill="#8c8c8c" stroke="none" stroke-width="1" /><circle cx="965.80" cy="324.00" r="0.90" fill="#8c8c8c" stroke="none" stroke-width="1" /><circle cx="974.70" cy="324.00" r="0.90" fill="#8c8c8c" stroke="none" stroke-width="1" /><circle cx="983.60" cy="324.00" r="0.90" fill="#8c8c8c" stroke="none" stroke-width="1" /><circle cx="992.50" cy="324.00" r="0.90" fill="#8c8c8c" stroke="none" stroke-width="1" /><circle cx="1001.40" cy="324.00" r="0.90" fill="#8c8c8c" stroke="none" stroke-width="1" /><circle cx="1010.30" cy="324.00" r="0.90" fill="#8c8c8c" stroke="none" stroke-width="1" /><circle cx="1019.20" cy="324.00" r="0.90" fill="#8c8c8c" stroke="none" stroke-width="1" /><circle cx="1028.10" cy="324.00" r="0.90" fill="#8c8c8c" stroke="none" stroke-width="1" /><circle cx="1037.00" cy="324.00" r="0.90" fill="#8c8c8c" stroke="none" stroke-width="1" /><circle cx="1045.90" cy="324.00" r="0.90" fill="#8c8c8c" stroke="none" stroke-width="1" /><polygon points="1058.70,282.00 1069.50,282.50 1069.50,333.50 1058.70,334.00" fill="#b0b0b0" stroke="none" stroke-width="1" /><line x1="1072.20" y1="272.00" x2="1072.20" y2="334.60" stroke="#2a2a2a" stroke-width="1.4" /><ellipse cx="1064.5" cy="303" rx="1.8" ry="2.6" fill="#9a9a9a"/><circle cx="932.50" cy="301.70" r="2.40" fill="#1e1e1e" stroke="none" stroke-width="1" /><circle cx="932.90" cy="301.40" r="0.80" fill="#777" stroke="none" stroke-width="1" /><rect x="995.50" y="334.50" width="20.00" height="14.50" fill="#f8f8f8" stroke="none" stroke-width="1" /><line x1="994.50" y1="334.60" x2="1016.50" y2="334.60" stroke="#333" stroke-width="1.3" /><line x1="1015.20" y1="334.00" x2="1015.80" y2="343.00" stroke="#555" stroke-width="0.9" /><rect x="1034.00" y="347.00" width="32.70" height="5.60" fill="#3aa592" stroke="none" stroke-width="1" /><rect x="1040.50" y="348.00" width="21.50" height="3.60" fill="#d8efe9" stroke="none" stroke-width="1" /><rect x="1042.00" y="348.80" width="18.50" height="2.00" fill="#3aa592" stroke="none" stroke-width="1" /><line x1="1048.00" y1="354.00" x2="1064.00" y2="354.00" stroke="#7bbfb2" stroke-width="0.7" /><path d="M1331.1,138.7 L1382.2,138.7 L1387.6,170.3 Q1357,175 1326.8,170.3 Z" fill="#fff" stroke="#7a7a7a" stroke-width="1.9" stroke-linejoin="round"/><rect x="1355.30" y="172.50" width="4.50" height="47.00" fill="#fff" stroke="#8a8a8a" stroke-width="0.9" /><rect x="1355.60" y="173.00" width="3.90" height="10.00" fill="#8c8c8c" stroke="none" stroke-width="1" /><line x1="1356.00" y1="180.00" x2="1359.00" y2="180.00" stroke="#666" stroke-width="0.6" /><line x1="1356.00" y1="181.50" x2="1359.00" y2="181.50" stroke="#666" stroke-width="0.6" /><circle cx="1359.10" cy="176.30" r="1.90" fill="#1aa08f" stroke="none" stroke-width="1" /><rect x="1357.20" y="184.50" width="3.30" height="10.50" fill="#fff" stroke="#8a8a8a" stroke-width="0.8" rx="1.5"/><ellipse cx="1357.2" cy="219.8" rx="19" ry="3" fill="#fff" stroke="#8a8a8a" stroke-width="1.2"/><path d="M1338.5,220.5 Q1357.2,225.5 1375.9,220.5" fill="none" stroke="#777" stroke-width="1.6"/><rect x="1355.60" y="214.00" width="3.90" height="6.00" fill="#fff" stroke="#8a8a8a" stroke-width="0.8" /><rect x="1328.50" y="290.60" width="61.10" height="61.20" fill="#fff" stroke="#7a7a7a" stroke-width="2.2" rx="3.5"/><path d="M1355.6,303.6 L1352.8,303.6 Q1349.6,306.1 1352.8,308.8 L1355.6,308.8 Z" fill="#23998a"/><path d="M1363.0,303.6 L1365.8,303.6 Q1369.0,306.1 1365.8,308.8 L1363.0,308.8 Z" fill="#23998a"/><line x1="1359.30" y1="320.00" x2="1359.30" y2="326.00" stroke="#23998a" stroke-width="2" /><line x1="1352.60" y1="331.00" x2="1355.60" y2="336.40" stroke="#23998a" stroke-width="2" /><line x1="1366.40" y1="331.00" x2="1363.20" y2="336.40" stroke="#23998a" stroke-width="2" /><path d="M1316,408.3 L1427,408.3 Q1432.5,408.6 1432.8,416 L1433.6,440 Q1431,446 1426.5,449.4 L1316.5,449.4 Q1311.5,446 1309.5,440 L1310.3,416 Q1310.8,408.6 1316,408.3 Z" fill="#fff" stroke="#7a7a7a" stroke-width="1.1"/><rect x="1314.20" y="420.20" width="114.60" height="11.20" fill="#b3b3b3" stroke="none" stroke-width="1" /><line x1="1314.20" y1="421.00" x2="1428.80" y2="421.00" stroke="#23907f" stroke-width="1.6" /><line x1="1314.20" y1="424.30" x2="1428.80" y2="424.30" stroke="#23907f" stroke-width="1.6" /><line x1="1314.20" y1="427.50" x2="1428.80" y2="427.50" stroke="#23907f" stroke-width="1.6" /><line x1="1314.20" y1="430.60" x2="1428.80" y2="430.60" stroke="#23907f" stroke-width="1.6" /><rect x="1368.40" y="435.80" width="6.40" height="3.20" fill="#2a9a8a" stroke="#8a8a8a" stroke-width="0.6" /><line x1="1309.80" y1="439.50" x2="1433.40" y2="439.50" stroke="#7e7e7e" stroke-width="1" /><polygon points="1316.00,442.20 1427.00,442.20 1424.00,449.40 1320.00,449.40" fill="#949494" stroke="none" stroke-width="1" /><polygon points="1318.50,445.20 1425.50,445.20 1424.30,448.20 1319.70,448.20" fill="#c9c9c9" stroke="none" stroke-width="1" /><g transform="translate(290,460) scale(0.09625)"><defs><linearGradient id="acbp" x1="0" y1="0" x2="0" y2="1"><stop offset="0" stop-color="#5d6266"/><stop offset="1" stop-color="#43484c"/></linearGradient></defs><rect x="165.00" y="108.00" width="592.00" height="652.00" fill="#15181b" stroke="none" stroke-width="1" /><rect x="180.00" y="118.00" width="562.00" height="97.00" fill="#25313c" stroke="none" stroke-width="1" /><rect x="250.00" y="140.00" width="440.00" height="30.00" fill="#3d4d5b" stroke="none" stroke-width="1" /><rect x="250.00" y="180.00" width="440.00" height="25.00" fill="#34424f" stroke="none" stroke-width="1" /><circle cx="265.00" cy="155.00" r="5.00" fill="#8c9aa5" stroke="none" stroke-width="1" /><circle cx="273.00" cy="193.00" r="4.00" fill="#6c7a85" stroke="none" stroke-width="1" /><circle cx="286.00" cy="155.00" r="5.00" fill="#8c9aa5" stroke="none" stroke-width="1" /><circle cx="294.00" cy="193.00" r="4.00" fill="#6c7a85" stroke="none" stroke-width="1" /><circle cx="307.00" cy="155.00" r="5.00" fill="#8c9aa5" stroke="none" stroke-width="1" /><circle cx="315.00" cy="193.00" r="4.00" fill="#6c7a85" stroke="none" stroke-width="1" /><circle cx="328.00" cy="155.00" r="5.00" fill="#8c9aa5" stroke="none" stroke-width="1" /><circle cx="336.00" cy="193.00" r="4.00" fill="#6c7a85" stroke="none" stroke-width="1" /><circle cx="349.00" cy="155.00" r="5.00" fill="#8c9aa5" stroke="none" stroke-width="1" /><circle cx="357.00" cy="193.00" r="4.00" fill="#6c7a85" stroke="none" stroke-width="1" /><circle cx="370.00" cy="155.00" r="5.00" fill="#8c9aa5" stroke="none" stroke-width="1" /><circle cx="378.00" cy="193.00" r="4.00" fill="#6c7a85" stroke="none" stroke-width="1" /><circle cx="391.00" cy="155.00" r="5.00" fill="#8c9aa5" stroke="none" stroke-width="1" /><circle cx="399.00" cy="193.00" r="4.00" fill="#6c7a85" stroke="none" stroke-width="1" /><circle cx="412.00" cy="155.00" r="5.00" fill="#8c9aa5" stroke="none" stroke-width="1" /><circle cx="420.00" cy="193.00" r="4.00" fill="#6c7a85" stroke="none" stroke-width="1" /><circle cx="433.00" cy="155.00" r="5.00" fill="#8c9aa5" stroke="none" stroke-width="1" /><circle cx="441.00" cy="193.00" r="4.00" fill="#6c7a85" stroke="none" stroke-width="1" /><circle cx="454.00" cy="155.00" r="5.00" fill="#8c9aa5" stroke="none" stroke-width="1" /><circle cx="462.00" cy="193.00" r="4.00" fill="#6c7a85" stroke="none" stroke-width="1" /><circle cx="475.00" cy="155.00" r="5.00" fill="#8c9aa5" stroke="none" stroke-width="1" /><circle cx="483.00" cy="193.00" r="4.00" fill="#6c7a85" stroke="none" stroke-width="1" /><circle cx="496.00" cy="155.00" r="5.00" fill="#8c9aa5" stroke="none" stroke-width="1" /><circle cx="504.00" cy="193.00" r="4.00" fill="#6c7a85" stroke="none" stroke-width="1" /><circle cx="517.00" cy="155.00" r="5.00" fill="#8c9aa5" stroke="none" stroke-width="1" /><circle cx="525.00" cy="193.00" r="4.00" fill="#6c7a85" stroke="none" stroke-width="1" /><circle cx="538.00" cy="155.00" r="5.00" fill="#8c9aa5" stroke="none" stroke-width="1" /><circle cx="546.00" cy="193.00" r="4.00" fill="#6c7a85" stroke="none" stroke-width="1" /><circle cx="559.00" cy="155.00" r="5.00" fill="#8c9aa5" stroke="none" stroke-width="1" /><circle cx="567.00" cy="193.00" r="4.00" fill="#6c7a85" stroke="none" stroke-width="1" /><circle cx="580.00" cy="155.00" r="5.00" fill="#8c9aa5" stroke="none" stroke-width="1" /><circle cx="588.00" cy="193.00" r="4.00" fill="#6c7a85" stroke="none" stroke-width="1" /><circle cx="601.00" cy="155.00" r="5.00" fill="#8c9aa5" stroke="none" stroke-width="1" /><circle cx="609.00" cy="193.00" r="4.00" fill="#6c7a85" stroke="none" stroke-width="1" /><circle cx="622.00" cy="155.00" r="5.00" fill="#8c9aa5" stroke="none" stroke-width="1" /><circle cx="630.00" cy="193.00" r="4.00" fill="#6c7a85" stroke="none" stroke-width="1" /><circle cx="643.00" cy="155.00" r="5.00" fill="#8c9aa5" stroke="none" stroke-width="1" /><circle cx="651.00" cy="193.00" r="4.00" fill="#6c7a85" stroke="none" stroke-width="1" /><circle cx="664.00" cy="155.00" r="5.00" fill="#8c9aa5" stroke="none" stroke-width="1" /><circle cx="672.00" cy="193.00" r="4.00" fill="#6c7a85" stroke="none" stroke-width="1" /><rect x="205.00" y="225.00" width="515.00" height="510.00" fill="url(#acbp)" stroke="none" stroke-width="1" /><rect x="205.00" y="225.00" width="515.00" height="60.00" fill="#5d6165" stroke="none" stroke-width="1" /><rect x="248.00" y="380.00" width="90.00" height="302.00" fill="#33393e" stroke="#4d6a78" stroke-width="6" /><rect x="265.00" y="425.00" width="60.00" height="80.00" fill="#5fb85a" stroke="none" stroke-width="1" /><rect x="262.00" y="515.00" width="63.00" height="53.00" fill="#2f5d5a" stroke="none" stroke-width="1" /><rect x="270.00" y="522.00" width="12.00" height="14.00" fill="#7fb5a8" stroke="none" stroke-width="1" /><rect x="288.00" y="522.00" width="12.00" height="14.00" fill="#7fb5a8" stroke="none" stroke-width="1" /><rect x="306.00" y="522.00" width="12.00" height="14.00" fill="#7fb5a8" stroke="none" stroke-width="1" /><rect x="270.00" y="544.00" width="12.00" height="14.00" fill="#7fb5a8" stroke="none" stroke-width="1" /><rect x="288.00" y="544.00" width="12.00" height="14.00" fill="#7fb5a8" stroke="none" stroke-width="1" /><rect x="306.00" y="544.00" width="12.00" height="14.00" fill="#7fb5a8" stroke="none" stroke-width="1" /><rect x="258.00" y="585.00" width="72.00" height="85.00" fill="#24292d" stroke="none" stroke-width="1" /><line x1="270.00" y1="600.00" x2="318.00" y2="655.00" stroke="#8aa" stroke-width="6" /><rect x="370.00" y="305.00" width="228.00" height="400.00" fill="#55595d" stroke="none" stroke-width="1" /><rect x="375.00" y="315.00" width="170.00" height="25.00" fill="#c8cccc" stroke="none" stroke-width="1" /><rect x="375.00" y="330.00" width="170.00" height="12.00" fill="#4caf6a" stroke="none" stroke-width="1" /><rect x="592.00" y="318.00" width="106.00" height="22.00" fill="#c0c4c4" stroke="none" stroke-width="1" /><rect x="390.00" y="400.00" width="47.00" height="47.00" fill="#e8202a" stroke="none" stroke-width="1" /><rect x="478.00" y="400.00" width="48.00" height="47.00" fill="#3fdc8a" stroke="none" stroke-width="1" /><rect x="388.00" y="478.00" width="58.00" height="44.00" fill="#d8151e" stroke="none" stroke-width="1" /><rect x="476.00" y="478.00" width="56.00" height="44.00" fill="#e0a36a" stroke="none" stroke-width="1" /><rect x="482.00" y="500.00" width="46.00" height="20.00" fill="#e8e8e8" stroke="none" stroke-width="1" /><rect x="538.00" y="318.00" width="54.00" height="392.00" fill="#0b0d0e" stroke="none" stroke-width="1" rx="25"/><rect x="548.00" y="350.00" width="34.00" height="320.00" fill="#34d978" stroke="none" stroke-width="1" /><rect x="552.00" y="600.00" width="28.00" height="70.00" fill="#1f8f4a" stroke="none" stroke-width="1" /><rect x="600.00" y="365.00" width="95.00" height="135.00" fill="#2d3236" stroke="none" stroke-width="1" /><rect x="625.00" y="445.00" width="60.00" height="45.00" fill="#9aa0a4" stroke="none" stroke-width="1" /><rect x="150.00" y="540.00" width="50.00" height="150.00" fill="#2a2e32" stroke="none" stroke-width="1" /><rect x="725.00" y="540.00" width="50.00" height="150.00" fill="#2a2e32" stroke="none" stroke-width="1" /><polygon points="130.00,838.00 160.00,745.00 760.00,745.00 790.00,838.00" fill="#5b4b3b" stroke="none" stroke-width="1" /><rect x="215.00" y="750.00" width="500.00" height="88.00" fill="#131517" stroke="none" stroke-width="1" /><circle cx="280.00" cy="800.00" r="22.00" fill="#3a3f44" stroke="none" stroke-width="1" /><circle cx="460.00" cy="800.00" r="22.00" fill="#3a3f44" stroke="none" stroke-width="1" /><rect x="540.00" y="785.00" width="22.00" height="40.00" fill="#2e3337" stroke="none" stroke-width="1" /><rect x="575.00" y="785.00" width="22.00" height="40.00" fill="#2e3337" stroke="none" stroke-width="1" /><circle cx="630.00" cy="805.00" r="9.00" fill="#e02020" stroke="none" stroke-width="1" /></g><g transform="translate(545,452) scale(0.11792)"><polygon points="55.00,75.00 75.00,60.00 185.00,60.00 185.00,775.00 75.00,775.00 58.00,760.00" fill="#404143" stroke="none" stroke-width="1" /><line x1="185.00" y1="60.00" x2="185.00" y2="775.00" stroke="#5a5b5d" stroke-width="5" /><line x1="120.00" y1="200.00" x2="120.00" y2="700.00" stroke="#2a2b2d" stroke-width="6" /><rect x="100.00" y="360.00" width="40.00" height="90.00" fill="#2e2f31" stroke="none" stroke-width="1" /><polygon points="185.00,60.00 560.00,60.00 560.00,195.00 185.00,195.00" fill="#505153" stroke="none" stroke-width="1" /><circle cx="235.00" cy="100.00" r="42.00" fill="#1c1c1d" stroke="none" stroke-width="1" /><circle cx="235.00" cy="85.00" r="30.00" fill="#2c2c2d" stroke="none" stroke-width="1" /><circle cx="365.00" cy="100.00" r="42.00" fill="#1c1c1d" stroke="none" stroke-width="1" /><circle cx="365.00" cy="85.00" r="30.00" fill="#2c2c2d" stroke="none" stroke-width="1" /><circle cx="492.00" cy="100.00" r="42.00" fill="#1c1c1d" stroke="none" stroke-width="1" /><circle cx="492.00" cy="85.00" r="30.00" fill="#2c2c2d" stroke="none" stroke-width="1" /><circle cx="300.00" cy="115.00" r="18.00" fill="#141414" stroke="none" stroke-width="1" /><circle cx="300.00" cy="160.00" r="16.00" fill="#141414" stroke="none" stroke-width="1" /><circle cx="430.00" cy="115.00" r="18.00" fill="#141414" stroke="none" stroke-width="1" /><circle cx="430.00" cy="160.00" r="16.00" fill="#141414" stroke="none" stroke-width="1" /><circle cx="175.00" cy="160.00" r="14.00" fill="#141414" stroke="none" stroke-width="1" /><circle cx="545.00" cy="160.00" r="14.00" fill="#141414" stroke="none" stroke-width="1" /><rect x="160.00" y="190.00" width="425.00" height="435.00" fill="#5c5d60" stroke="none" stroke-width="1" /><rect x="160.00" y="190.00" width="425.00" height="50.00" fill="#636467" stroke="none" stroke-width="1" /><circle cx="325.00" cy="210.00" r="13.00" fill="#1a1a1a" stroke="none" stroke-width="1" /><circle cx="460.00" cy="210.00" r="13.00" fill="#1a1a1a" stroke="none" stroke-width="1" /><rect x="340.00" y="250.00" width="248.00" height="342.00" fill="#56575a" stroke="#424345" stroke-width="5" /><line x1="450.00" y1="330.00" x2="585.00" y2="330.00" stroke="#4a4b4d" stroke-width="3" /><rect x="360.00" y="288.00" width="92.00" height="234.00" fill="#1f2021" stroke="none" stroke-width="1" /><polygon points="375.00,310.00 440.00,310.00 440.00,425.00 482.00,450.00 482.00,470.00 375.00,465.00" fill="#47b39f" stroke="none" stroke-width="1" /><rect x="375.00" y="310.00" width="65.00" height="90.00" fill="#5fc4b0" stroke="none" stroke-width="1" /><polygon points="440.00,425.00 482.00,450.00 482.00,470.00 440.00,462.00" fill="#6cc9b6" stroke="none" stroke-width="1" /><line x1="200.00" y1="272.00" x2="320.00" y2="272.00" stroke="#5fa897" stroke-width="5" /><line x1="205.00" y1="295.00" x2="300.00" y2="295.00" stroke="#a8a9ab" stroke-width="5" /><line x1="205.00" y1="325.00" x2="275.00" y2="325.00" stroke="#a8a9ab" stroke-width="5" /><line x1="205.00" y1="350.00" x2="305.00" y2="350.00" stroke="#a8a9ab" stroke-width="5" /><line x1="205.00" y1="385.00" x2="275.00" y2="385.00" stroke="#a8a9ab" stroke-width="5" /><line x1="205.00" y1="410.00" x2="295.00" y2="410.00" stroke="#a8a9ab" stroke-width="5" /><line x1="205.00" y1="440.00" x2="305.00" y2="440.00" stroke="#a8a9ab" stroke-width="5" /><line x1="205.00" y1="462.00" x2="285.00" y2="462.00" stroke="#a8a9ab" stroke-width="5" /><line x1="205.00" y1="540.00" x2="315.00" y2="540.00" stroke="#a8a9ab" stroke-width="5" /><line x1="205.00" y1="570.00" x2="320.00" y2="570.00" stroke="#a8a9ab" stroke-width="5" /><rect x="285.00" y="285.00" width="35.00" height="20.00" fill="#d0d0d0" stroke="none" stroke-width="1" /><circle cx="222.00" cy="508.00" r="12.00" fill="#e2492d" stroke="none" stroke-width="1" /><circle cx="210.00" cy="625.00" r="13.00" fill="#1a1a1a" stroke="none" stroke-width="1" /><circle cx="575.00" cy="605.00" r="13.00" fill="#1a1a1a" stroke="none" stroke-width="1" /><polygon points="185.00,625.00 560.00,625.00 560.00,700.00 530.00,770.00 185.00,770.00" fill="#4e4f51" stroke="none" stroke-width="1" /><path d="M195,770 L195,735 Q240,690 285,735 L285,770 Z" fill="#1a1a1a"/><path d="M330,770 L330,735 Q375,690 420,735 L420,770 Z" fill="#1a1a1a"/><path d="M453,770 L453,735 Q498,690 543,735 L543,770 Z" fill="#1a1a1a"/><circle cx="175.00" cy="680.00" r="14.00" fill="#141414" stroke="none" stroke-width="1" /></g><g transform="translate(297.4,585.3) scale(0.11792)"><polygon points="55.00,75.00 75.00,60.00 185.00,60.00 185.00,775.00 75.00,775.00 58.00,760.00" fill="#404143" stroke="none" stroke-width="1" /><line x1="185.00" y1="60.00" x2="185.00" y2="775.00" stroke="#5a5b5d" stroke-width="5" /><line x1="120.00" y1="200.00" x2="120.00" y2="700.00" stroke="#2a2b2d" stroke-width="6" /><rect x="100.00" y="360.00" width="40.00" height="90.00" fill="#2e2f31" stroke="none" stroke-width="1" /><polygon points="185.00,60.00 560.00,60.00 560.00,195.00 185.00,195.00" fill="#505153" stroke="none" stroke-width="1" /><circle cx="235.00" cy="100.00" r="42.00" fill="#1c1c1d" stroke="none" stroke-width="1" /><circle cx="235.00" cy="85.00" r="30.00" fill="#2c2c2d" stroke="none" stroke-width="1" /><circle cx="365.00" cy="100.00" r="42.00" fill="#1c1c1d" stroke="none" stroke-width="1" /><circle cx="365.00" cy="85.00" r="30.00" fill="#2c2c2d" stroke="none" stroke-width="1" /><circle cx="492.00" cy="100.00" r="42.00" fill="#1c1c1d" stroke="none" stroke-width="1" /><circle cx="492.00" cy="85.00" r="30.00" fill="#2c2c2d" stroke="none" stroke-width="1" /><circle cx="300.00" cy="115.00" r="18.00" fill="#141414" stroke="none" stroke-width="1" /><circle cx="300.00" cy="160.00" r="16.00" fill="#141414" stroke="none" stroke-width="1" /><circle cx="430.00" cy="115.00" r="18.00" fill="#141414" stroke="none" stroke-width="1" /><circle cx="430.00" cy="160.00" r="16.00" fill="#141414" stroke="none" stroke-width="1" /><circle cx="175.00" cy="160.00" r="14.00" fill="#141414" stroke="none" stroke-width="1" /><circle cx="545.00" cy="160.00" r="14.00" fill="#141414" stroke="none" stroke-width="1" /><rect x="160.00" y="190.00" width="425.00" height="435.00" fill="#5c5d60" stroke="none" stroke-width="1" /><rect x="160.00" y="190.00" width="425.00" height="50.00" fill="#636467" stroke="none" stroke-width="1" /><circle cx="325.00" cy="210.00" r="13.00" fill="#1a1a1a" stroke="none" stroke-width="1" /><circle cx="460.00" cy="210.00" r="13.00" fill="#1a1a1a" stroke="none" stroke-width="1" /><rect x="340.00" y="250.00" width="248.00" height="342.00" fill="#56575a" stroke="#424345" stroke-width="5" /><line x1="450.00" y1="330.00" x2="585.00" y2="330.00" stroke="#4a4b4d" stroke-width="3" /><rect x="360.00" y="288.00" width="92.00" height="234.00" fill="#1f2021" stroke="none" stroke-width="1" /><polygon points="375.00,310.00 440.00,310.00 440.00,425.00 482.00,450.00 482.00,470.00 375.00,465.00" fill="#47b39f" stroke="none" stroke-width="1" /><rect x="375.00" y="310.00" width="65.00" height="90.00" fill="#5fc4b0" stroke="none" stroke-width="1" /><polygon points="440.00,425.00 482.00,450.00 482.00,470.00 440.00,462.00" fill="#6cc9b6" stroke="none" stroke-width="1" /><line x1="200.00" y1="272.00" x2="320.00" y2="272.00" stroke="#5fa897" stroke-width="5" /><line x1="205.00" y1="295.00" x2="300.00" y2="295.00" stroke="#a8a9ab" stroke-width="5" /><line x1="205.00" y1="325.00" x2="275.00" y2="325.00" stroke="#a8a9ab" stroke-width="5" /><line x1="205.00" y1="350.00" x2="305.00" y2="350.00" stroke="#a8a9ab" stroke-width="5" /><line x1="205.00" y1="385.00" x2="275.00" y2="385.00" stroke="#a8a9ab" stroke-width="5" /><line x1="205.00" y1="410.00" x2="295.00" y2="410.00" stroke="#a8a9ab" stroke-width="5" /><line x1="205.00" y1="440.00" x2="305.00" y2="440.00" stroke="#a8a9ab" stroke-width="5" /><line x1="205.00" y1="462.00" x2="285.00" y2="462.00" stroke="#a8a9ab" stroke-width="5" /><line x1="205.00" y1="540.00" x2="315.00" y2="540.00" stroke="#a8a9ab" stroke-width="5" /><line x1="205.00" y1="570.00" x2="320.00" y2="570.00" stroke="#a8a9ab" stroke-width="5" /><rect x="285.00" y="285.00" width="35.00" height="20.00" fill="#d0d0d0" stroke="none" stroke-width="1" /><circle cx="222.00" cy="508.00" r="12.00" fill="#e2492d" stroke="none" stroke-width="1" /><circle cx="210.00" cy="625.00" r="13.00" fill="#1a1a1a" stroke="none" stroke-width="1" /><circle cx="575.00" cy="605.00" r="13.00" fill="#1a1a1a" stroke="none" stroke-width="1" /><polygon points="185.00,625.00 560.00,625.00 560.00,700.00 530.00,770.00 185.00,770.00" fill="#4e4f51" stroke="none" stroke-width="1" /><path d="M195,770 L195,735 Q240,690 285,735 L285,770 Z" fill="#1a1a1a"/><path d="M330,770 L330,735 Q375,690 420,735 L420,770 Z" fill="#1a1a1a"/><path d="M453,770 L453,735 Q498,690 543,735 L543,770 Z" fill="#1a1a1a"/><circle cx="175.00" cy="680.00" r="14.00" fill="#141414" stroke="none" stroke-width="1" /></g><g transform="translate(752,452) scale(0.11316)"><defs><radialGradient id="mcbbg" cx="0.5" cy="0.45" r="0.75"><stop offset="0" stop-color="#3b3834"/><stop offset="1" stop-color="#1f1d1b"/></radialGradient>
    <linearGradient id="mcbt" x1="0" y1="0" x2="0" y2="1"><stop offset="0" stop-color="#4cd8c8"/><stop offset="1" stop-color="#2eb3a4"/></linearGradient>
    <linearGradient id="mcbside" x1="0" y1="0" x2="1" y2="0"><stop offset="0" stop-color="#e2ded5"/><stop offset="1" stop-color="#bfbab0"/></linearGradient></defs><rect x="28.00" y="28.00" width="748.00" height="780.00" fill="url(#mcbbg)" stroke="none" stroke-width="1" /><polygon points="630.00,55.00 725.00,66.00 745.00,90.00 742.00,690.00 700.00,740.00 640.00,760.00" fill="url(#mcbside)" stroke="none" stroke-width="1" /><line x1="690.00" y1="110.00" x2="688.00" y2="680.00" stroke="#b5b0a6" stroke-width="5" /><circle cx="630.00" cy="215.00" r="10.00" fill="#333" stroke="none" stroke-width="1" /><polygon points="160.00,48.00 640.00,55.00 640.00,245.00 160.00,222.00" fill="#ebe8e0" stroke="none" stroke-width="1" /><ellipse cx="230" cy="122" rx="45" ry="60" fill="#d9d5cc"/><ellipse cx="230" cy="122" rx="30" ry="38" fill="#2c2b29"/><line x1="222.00" y1="102.00" x2="222.00" y2="142.00" stroke="#888" stroke-width="5" /><line x1="238.00" y1="102.00" x2="238.00" y2="142.00" stroke="#888" stroke-width="5" /><ellipse cx="380" cy="128" rx="45" ry="60" fill="#d9d5cc"/><ellipse cx="380" cy="128" rx="30" ry="38" fill="#2c2b29"/><line x1="372.00" y1="108.00" x2="372.00" y2="148.00" stroke="#888" stroke-width="5" /><line x1="388.00" y1="108.00" x2="388.00" y2="148.00" stroke="#888" stroke-width="5" /><ellipse cx="530" cy="136" rx="45" ry="60" fill="#d9d5cc"/><ellipse cx="530" cy="136" rx="30" ry="38" fill="#2c2b29"/><line x1="522.00" y1="116.00" x2="522.00" y2="156.00" stroke="#888" stroke-width="5" /><line x1="538.00" y1="116.00" x2="538.00" y2="156.00" stroke="#888" stroke-width="5" /><line x1="302.00" y1="50.00" x2="302.00" y2="225.00" stroke="#d0ccc3" stroke-width="6" /><line x1="455.00" y1="52.00" x2="455.00" y2="235.00" stroke="#d0ccc3" stroke-width="6" /><polygon points="55.00,228.00 640.00,262.00 640.00,720.00 500.00,762.00 55.00,640.00" fill="#ece9e2" stroke="none" stroke-width="1" /><polygon points="55.00,228.00 640.00,262.00 640.00,285.00 55.00,255.00" fill="#f3f1eb" stroke="none" stroke-width="1" /><line x1="202.00" y1="255.00" x2="202.00" y2="505.00" stroke="#cfcac1" stroke-width="5" /><line x1="362.00" y1="268.00" x2="362.00" y2="530.00" stroke="#cfcac1" stroke-width="5" /><line x1="212.00" y1="318.00" x2="335.00" y2="326.00" stroke="#33a89a" stroke-width="8" /><line x1="372.00" y1="338.00" x2="510.00" y2="352.00" stroke="#33a89a" stroke-width="8" /><line x1="78.00" y1="285.00" x2="185.00" y2="312.00" stroke="#6ab9b6" stroke-width="7" /><line x1="80.00" y1="345.00" x2="185.00" y2="351.00" stroke="#bdb8b0" stroke-width="4" /><line x1="80.00" y1="378.00" x2="185.00" y2="384.00" stroke="#bdb8b0" stroke-width="4" /><line x1="80.00" y1="410.00" x2="185.00" y2="416.00" stroke="#bdb8b0" stroke-width="4" /><line x1="80.00" y1="440.00" x2="185.00" y2="446.00" stroke="#bdb8b0" stroke-width="4" /><line x1="80.00" y1="462.00" x2="185.00" y2="468.00" stroke="#bdb8b0" stroke-width="4" /><rect x="228.00" y="410.00" width="62.00" height="70.00" fill="none" stroke="#cbc6bd" stroke-width="4" /><circle cx="600.00" cy="300.00" r="12.00" fill="#222" stroke="none" stroke-width="1" /><line x1="640.00" y1="250.00" x2="640.00" y2="720.00" stroke="#c9c4ba" stroke-width="4" /><polygon points="60.00,560.00 500.00,640.00 500.00,700.00 60.00,630.00" fill="#2aa697" stroke="none" stroke-width="1" /><polygon points="92.00,482.00 172.00,492.00 172.00,592.00 92.00,577.00" fill="url(#mcbt)" stroke="none" stroke-width="1" /><polygon points="92.00,522.00 172.00,532.00 172.00,542.00 92.00,532.00" fill="#2a9f90" stroke="none" stroke-width="1" /><polygon points="228.00,505.00 322.00,515.00 322.00,615.00 228.00,600.00" fill="url(#mcbt)" stroke="none" stroke-width="1" /><polygon points="228.00,545.00 322.00,555.00 322.00,565.00 228.00,555.00" fill="#2a9f90" stroke="none" stroke-width="1" /><polygon points="385.00,530.00 485.00,540.00 485.00,640.00 385.00,625.00" fill="url(#mcbt)" stroke="none" stroke-width="1" /><polygon points="385.00,570.00 485.00,580.00 485.00,590.00 385.00,580.00" fill="#2a9f90" stroke="none" stroke-width="1" /><rect x="52.00" y="478.00" width="46.00" height="100.00" fill="#e9e5dc" stroke="none" stroke-width="1" rx="20"/><line x1="62.00" y1="488.00" x2="62.00" y2="568.00" stroke="#f8f6f0" stroke-width="6" /><rect x="168.00" y="500.00" width="64.00" height="100.00" fill="#e9e5dc" stroke="none" stroke-width="1" rx="20"/><line x1="178.00" y1="510.00" x2="178.00" y2="590.00" stroke="#f8f6f0" stroke-width="6" /><rect x="322.00" y="522.00" width="64.00" height="100.00" fill="#e9e5dc" stroke="none" stroke-width="1" rx="20"/><line x1="332.00" y1="532.00" x2="332.00" y2="612.00" stroke="#f8f6f0" stroke-width="6" /><rect x="482.00" y="548.00" width="40.00" height="100.00" fill="#e9e5dc" stroke="none" stroke-width="1" rx="20"/><line x1="492.00" y1="558.00" x2="492.00" y2="638.00" stroke="#f8f6f0" stroke-width="6" /><path d="M38,585 Q32,628 80,645 L455,745 Q508,752 502,700 L492,680 L80,600 Z" fill="#47d2c2"/><polygon points="150.00,625.00 335.00,668.00 335.00,708.00 150.00,662.00" fill="#5fd8c9" stroke="none" stroke-width="1" /><polygon points="500.00,700.00 640.00,718.00 640.00,760.00 505.00,765.00" fill="#dcd8cf" stroke="none" stroke-width="1" /></g><g transform="translate(261.00,0.20)"><g transform="translate(752,452) scale(0.11316)"><defs><radialGradient id="mcbbg2" cx="0.5" cy="0.45" r="0.75"><stop offset="0" stop-color="#3b3834"/><stop offset="1" stop-color="#1f1d1b"/></radialGradient>
    <linearGradient id="mcbt2" x1="0" y1="0" x2="0" y2="1"><stop offset="0" stop-color="#4cd8c8"/><stop offset="1" stop-color="#2eb3a4"/></linearGradient>
    <linearGradient id="mcbside" x1="0" y1="0" x2="1" y2="0"><stop offset="0" stop-color="#e2ded5"/><stop offset="1" stop-color="#bfbab0"/></linearGradient></defs><rect x="28.00" y="28.00" width="748.00" height="780.00" fill="url(#mcbbg2)" stroke="none" stroke-width="1" /><polygon points="630.00,55.00 725.00,66.00 745.00,90.00 742.00,690.00 700.00,740.00 640.00,760.00" fill="url(#mcbside)" stroke="none" stroke-width="1" /><line x1="690.00" y1="110.00" x2="688.00" y2="680.00" stroke="#b5b0a6" stroke-width="5" /><circle cx="630.00" cy="215.00" r="10.00" fill="#333" stroke="none" stroke-width="1" /><polygon points="160.00,48.00 640.00,55.00 640.00,245.00 160.00,222.00" fill="#ebe8e0" stroke="none" stroke-width="1" /><ellipse cx="230" cy="122" rx="45" ry="60" fill="#d9d5cc"/><ellipse cx="230" cy="122" rx="30" ry="38" fill="#2c2b29"/><line x1="222.00" y1="102.00" x2="222.00" y2="142.00" stroke="#888" stroke-width="5" /><line x1="238.00" y1="102.00" x2="238.00" y2="142.00" stroke="#888" stroke-width="5" /><ellipse cx="380" cy="128" rx="45" ry="60" fill="#d9d5cc"/><ellipse cx="380" cy="128" rx="30" ry="38" fill="#2c2b29"/><line x1="372.00" y1="108.00" x2="372.00" y2="148.00" stroke="#888" stroke-width="5" /><line x1="388.00" y1="108.00" x2="388.00" y2="148.00" stroke="#888" stroke-width="5" /><ellipse cx="530" cy="136" rx="45" ry="60" fill="#d9d5cc"/><ellipse cx="530" cy="136" rx="30" ry="38" fill="#2c2b29"/><line x1="522.00" y1="116.00" x2="522.00" y2="156.00" stroke="#888" stroke-width="5" /><line x1="538.00" y1="116.00" x2="538.00" y2="156.00" stroke="#888" stroke-width="5" /><line x1="302.00" y1="50.00" x2="302.00" y2="225.00" stroke="#d0ccc3" stroke-width="6" /><line x1="455.00" y1="52.00" x2="455.00" y2="235.00" stroke="#d0ccc3" stroke-width="6" /><polygon points="55.00,228.00 640.00,262.00 640.00,720.00 500.00,762.00 55.00,640.00" fill="#ece9e2" stroke="none" stroke-width="1" /><polygon points="55.00,228.00 640.00,262.00 640.00,285.00 55.00,255.00" fill="#f3f1eb" stroke="none" stroke-width="1" /><line x1="202.00" y1="255.00" x2="202.00" y2="505.00" stroke="#cfcac1" stroke-width="5" /><line x1="362.00" y1="268.00" x2="362.00" y2="530.00" stroke="#cfcac1" stroke-width="5" /><line x1="212.00" y1="318.00" x2="335.00" y2="326.00" stroke="#33a89a" stroke-width="8" /><line x1="372.00" y1="338.00" x2="510.00" y2="352.00" stroke="#33a89a" stroke-width="8" /><line x1="78.00" y1="285.00" x2="185.00" y2="312.00" stroke="#6ab9b6" stroke-width="7" /><line x1="80.00" y1="345.00" x2="185.00" y2="351.00" stroke="#bdb8b0" stroke-width="4" /><line x1="80.00" y1="378.00" x2="185.00" y2="384.00" stroke="#bdb8b0" stroke-width="4" /><line x1="80.00" y1="410.00" x2="185.00" y2="416.00" stroke="#bdb8b0" stroke-width="4" /><line x1="80.00" y1="440.00" x2="185.00" y2="446.00" stroke="#bdb8b0" stroke-width="4" /><line x1="80.00" y1="462.00" x2="185.00" y2="468.00" stroke="#bdb8b0" stroke-width="4" /><rect x="228.00" y="410.00" width="62.00" height="70.00" fill="none" stroke="#cbc6bd" stroke-width="4" /><circle cx="600.00" cy="300.00" r="12.00" fill="#222" stroke="none" stroke-width="1" /><line x1="640.00" y1="250.00" x2="640.00" y2="720.00" stroke="#c9c4ba" stroke-width="4" /><polygon points="60.00,560.00 500.00,640.00 500.00,700.00 60.00,630.00" fill="#2aa697" stroke="none" stroke-width="1" /><polygon points="92.00,482.00 172.00,492.00 172.00,592.00 92.00,577.00" fill="url(#mcbt2)" stroke="none" stroke-width="1" /><polygon points="92.00,522.00 172.00,532.00 172.00,542.00 92.00,532.00" fill="#2a9f90" stroke="none" stroke-width="1" /><polygon points="228.00,505.00 322.00,515.00 322.00,615.00 228.00,600.00" fill="url(#mcbt2)" stroke="none" stroke-width="1" /><polygon points="228.00,545.00 322.00,555.00 322.00,565.00 228.00,555.00" fill="#2a9f90" stroke="none" stroke-width="1" /><polygon points="385.00,530.00 485.00,540.00 485.00,640.00 385.00,625.00" fill="url(#mcbt2)" stroke="none" stroke-width="1" /><polygon points="385.00,570.00 485.00,580.00 485.00,590.00 385.00,580.00" fill="#2a9f90" stroke="none" stroke-width="1" /><rect x="52.00" y="478.00" width="46.00" height="100.00" fill="#e9e5dc" stroke="none" stroke-width="1" rx="20"/><line x1="62.00" y1="488.00" x2="62.00" y2="568.00" stroke="#f8f6f0" stroke-width="6" /><rect x="168.00" y="500.00" width="64.00" height="100.00" fill="#e9e5dc" stroke="none" stroke-width="1" rx="20"/><line x1="178.00" y1="510.00" x2="178.00" y2="590.00" stroke="#f8f6f0" stroke-width="6" /><rect x="322.00" y="522.00" width="64.00" height="100.00" fill="#e9e5dc" stroke="none" stroke-width="1" rx="20"/><line x1="332.00" y1="532.00" x2="332.00" y2="612.00" stroke="#f8f6f0" stroke-width="6" /><rect x="482.00" y="548.00" width="40.00" height="100.00" fill="#e9e5dc" stroke="none" stroke-width="1" rx="20"/><line x1="492.00" y1="558.00" x2="492.00" y2="638.00" stroke="#f8f6f0" stroke-width="6" /><path d="M38,585 Q32,628 80,645 L455,745 Q508,752 502,700 L492,680 L80,600 Z" fill="#47d2c2"/><polygon points="150.00,625.00 335.00,668.00 335.00,708.00 150.00,662.00" fill="#5fd8c9" stroke="none" stroke-width="1" /><polygon points="500.00,700.00 640.00,718.00 640.00,760.00 505.00,765.00" fill="#dcd8cf" stroke="none" stroke-width="1" /></g></g><g transform="translate(1018,588) scale(0.11553)"><defs><linearGradient id="m1bg" x1="0" y1="0" x2="1" y2="1"><stop offset="0" stop-color="#4a4a4a"/><stop offset="0.5" stop-color="#2a2a2a"/><stop offset="1" stop-color="#1e1e1e"/></linearGradient>
    <linearGradient id="m1side" x1="0" y1="0" x2="1" y2="0"><stop offset="0" stop-color="#e4e4e4"/><stop offset="1" stop-color="#c4c4c4"/></linearGradient></defs><rect x="35.00" y="28.00" width="485.00" height="767.00" fill="url(#m1bg)" stroke="none" stroke-width="1" /><polygon points="340.00,45.00 455.00,40.00 482.00,62.00 480.00,715.00 420.00,760.00 340.00,770.00" fill="url(#m1side)" stroke="none" stroke-width="1" /><line x1="470.00" y1="80.00" x2="468.00" y2="700.00" stroke="#a8a8a8" stroke-width="5" /><polygon points="170.00,60.00 345.00,45.00 345.00,240.00 170.00,245.00" fill="#efefef" stroke="none" stroke-width="1" /><ellipse cx="255" cy="125" rx="40" ry="55" fill="#d8d8d8"/><ellipse cx="255" cy="125" rx="30" ry="40" fill="#2a2a2a"/><line x1="248.00" y1="100.00" x2="248.00" y2="150.00" stroke="#8a8a8a" stroke-width="5" /><line x1="262.00" y1="100.00" x2="262.00" y2="150.00" stroke="#8a8a8a" stroke-width="5" /><polygon points="250.00,235.00 345.00,225.00 345.00,770.00 250.00,745.00" fill="#dedede" stroke="none" stroke-width="1" /><circle cx="305.00" cy="290.00" r="13.00" fill="#2a2a2a" stroke="none" stroke-width="1" /><circle cx="345.00" cy="190.00" r="8.00" fill="#555" stroke="none" stroke-width="1" /><polygon points="60.00,250.00 250.00,232.00 250.00,740.00 60.00,690.00" fill="#f3f3f3" stroke="none" stroke-width="1" /><line x1="72.00" y1="330.00" x2="215.00" y2="345.00" stroke="#3aa99e" stroke-width="10" /><line x1="75.00" y1="375.00" x2="165.00" y2="380.00" stroke="#b8b8b8" stroke-width="5" /><line x1="75.00" y1="405.00" x2="135.00" y2="410.00" stroke="#b8b8b8" stroke-width="5" /><line x1="75.00" y1="435.00" x2="215.00" y2="440.00" stroke="#b8b8b8" stroke-width="5" /><line x1="75.00" y1="462.00" x2="215.00" y2="467.00" stroke="#b8b8b8" stroke-width="5" /><line x1="75.00" y1="490.00" x2="215.00" y2="495.00" stroke="#b8b8b8" stroke-width="5" /><polygon points="92.00,530.00 195.00,540.00 205.00,690.00 45.00,655.00 60.00,600.00" fill="#38c3b3" stroke="none" stroke-width="1" /><rect x="55.00" y="520.00" width="45.00" height="90.00" fill="#ececec" stroke="none" stroke-width="1" rx="14"/><rect x="185.00" y="545.00" width="50.00" height="80.00" fill="#ececec" stroke="none" stroke-width="1" rx="14"/><polygon points="45.00,630.00 205.00,660.00 205.00,700.00 45.00,665.00" fill="#43cfbf" stroke="none" stroke-width="1" /><polygon points="190.00,700.00 345.00,730.00 345.00,765.00 200.00,760.00" fill="#e6e6e6" stroke="none" stroke-width="1" /><polygon points="440.00,650.00 468.00,640.00 465.00,690.00" fill="#3cc4b4" stroke="none" stroke-width="1" /><line x1="375.00" y1="330.00" x2="395.00" y2="640.00" stroke="#cfcfcf" stroke-width="6" /></g><g transform="translate(760,586) scale(0.10835)"><defs><linearGradient id="mtl" x1="0" y1="0" x2="1" y2="0"><stop offset="0" stop-color="#c5cfd6"/><stop offset="1" stop-color="#dfe3e2"/></linearGradient>
    <linearGradient id="mtw" x1="0" y1="0" x2="0" y2="1"><stop offset="0" stop-color="#e6e6e4"/><stop offset="1" stop-color="#cfcfcc"/></linearGradient></defs><rect x="45.00" y="40.00" width="65.00" height="760.00" fill="url(#mtl)" stroke="none" stroke-width="1" rx="10"/><rect x="52.00" y="425.00" width="30.00" height="60.00" fill="#7cc5b5" stroke="none" stroke-width="1" /><path d="M175,35 L575,35 Q600,38 600,70 L600,440 L90,440 L90,120 Q95,40 175,35 Z" fill="#e9e5d4"/><circle cx="135.00" cy="85.00" r="18.00" fill="#3a3733" stroke="none" stroke-width="1" /><circle cx="585.00" cy="75.00" r="14.00" fill="#3a3733" stroke="none" stroke-width="1" /><rect x="185.00" y="90.00" width="360.00" height="325.00" fill="#d9d8d0" stroke="none" stroke-width="1" rx="14"/><rect x="195.00" y="100.00" width="340.00" height="88.00" fill="#1f1f21" stroke="none" stroke-width="1" /><rect x="262.00" y="122.00" width="180.00" height="50.00" fill="#d8d8d8" stroke="none" stroke-width="1" /><rect x="272.00" y="130.00" width="18.00" height="34.00" fill="#f2f2f2" stroke="none" stroke-width="1" /><rect x="299.00" y="130.00" width="18.00" height="34.00" fill="#f2f2f2" stroke="none" stroke-width="1" /><rect x="326.00" y="130.00" width="18.00" height="34.00" fill="#f2f2f2" stroke="none" stroke-width="1" /><rect x="353.00" y="130.00" width="18.00" height="34.00" fill="#f2f2f2" stroke="none" stroke-width="1" /><rect x="380.00" y="130.00" width="18.00" height="34.00" fill="#f2f2f2" stroke="none" stroke-width="1" /><rect x="407.00" y="130.00" width="18.00" height="34.00" fill="#f2f2f2" stroke="none" stroke-width="1" /><rect x="395.00" y="132.00" width="17.00" height="30.00" fill="#d03030" stroke="none" stroke-width="1" /><rect x="195.00" y="188.00" width="340.00" height="217.00" fill="url(#mtw)" stroke="none" stroke-width="1" /><rect x="262.00" y="203.00" width="36.00" height="25.00" fill="#38a58e" stroke="none" stroke-width="1" /><line x1="305.00" y1="216.00" x2="420.00" y2="216.00" stroke="#777" stroke-width="8" /><circle cx="238.00" cy="265.00" r="10.00" fill="#c8c030" stroke="none" stroke-width="1" /><circle cx="340.00" cy="255.00" r="10.00" fill="#d22a2a" stroke="none" stroke-width="1" /><circle cx="440.00" cy="250.00" r="10.00" fill="#d22a2a" stroke="none" stroke-width="1" /><line x1="210.00" y1="322.00" x2="500.00" y2="316.00" stroke="#606060" stroke-width="9" /><line x1="215.00" y1="376.00" x2="495.00" y2="370.00" stroke="#6a6a6a" stroke-width="8" /><rect x="100.00" y="440.00" width="490.00" height="215.00" fill="#e4e1d2" stroke="none" stroke-width="1" /><rect x="118.00" y="448.00" width="462.00" height="197.00" fill="#cfcfcb" stroke="none" stroke-width="1" /><line x1="250.00" y1="468.00" x2="500.00" y2="462.00" stroke="#7a7a7a" stroke-width="7" /><rect x="262.00" y="498.00" width="200.00" height="64.00" fill="#f6f6f6" stroke="#b8b8b8" stroke-width="3" /><line x1="280.00" y1="530.00" x2="445.00" y2="530.00" stroke="#555" stroke-width="10" /><line x1="255.00" y1="592.00" x2="475.00" y2="588.00" stroke="#8a8a8a" stroke-width="8" /><rect x="100.00" y="465.00" width="50.00" height="65.00" fill="#e8e6dc" stroke="none" stroke-width="1" /><rect x="100.00" y="585.00" width="50.00" height="55.00" fill="#e8e6dc" stroke="none" stroke-width="1" /><rect x="555.00" y="485.00" width="37.00" height="45.00" fill="#ecebe4" stroke="none" stroke-width="1" /><rect x="110.00" y="655.00" width="480.00" height="145.00" fill="#e8e4d3" stroke="none" stroke-width="1" /><line x1="110.00" y1="658.00" x2="590.00" y2="658.00" stroke="#cfcbb8" stroke-width="5" /><line x1="150.00" y1="665.00" x2="150.00" y2="800.00" stroke="#d6d2c0" stroke-width="4" /><line x1="520.00" y1="660.00" x2="520.00" y2="800.00" stroke="#d6d2c0" stroke-width="4" /><polygon points="112.00,710.00 132.00,710.00 122.00,760.00" fill="#c8453a" stroke="none" stroke-width="1" /><polygon points="530.00,650.00 550.00,650.00 540.00,700.00" fill="#c8453a" stroke="none" stroke-width="1" /></g></svg>
<div class="bx" style="left:41.0px;top:167.9px;width:64.0px;height:35.9px;background:#00AD9E"></div>
<div class="bx" style="left:241.1px;top:148.0px;width:127.9px;height:36.8px;background:#00AD9E"></div>
<div class="bx" style="left:461.0px;top:148.0px;width:127.8px;height:36.7px;background:#00AD9E"></div>
<div class="bx" style="left:701.0px;top:147.9px;width:65.0px;height:37.0px;background:#00AD9E"></div>
<div class="bx" style="left:901.0px;top:143.9px;width:208.0px;height:37.9px;background:#00A597"></div>
<div class="bx" style="left:1224.0px;top:171.1px;width:77.9px;height:32.8px;background:#00A597"></div>
<div class="bx" style="left:1221.0px;top:293.1px;width:80.9px;height:32.8px;background:#00A597"></div>
<div class="bx" style="left:1217.0px;top:416.1px;width:78.9px;height:32.8px;background:#00A597"></div>
<div class="t" style="left:96.27px;top:30.46px;font-size:48px;color:#00A597;-webkit-text-stroke:1.6px #00A597;transform:scale(1.0168,0.9212)">建筑行业解决方案</div>
<div class="t" style="left:51.96px;top:174.90px;font-size:21px;color:#ffffff;-webkit-text-stroke:0.5px #ffffff;transform:scale(1.0425,1.0429)">电网</div>
<div class="t" style="left:252.42px;top:156.80px;font-size:21px;color:#ffffff;-webkit-text-stroke:0.5px #ffffff;transform:scale(1.0208,0.9818)">低压配电柜</div>
<div class="t" style="left:470.58px;top:156.60px;font-size:21px;color:#ffffff;-webkit-text-stroke:0.5px #ffffff;transform:scale(1.0240,0.9682)">电缆分支箱</div>
<div class="t" style="left:711.90px;top:156.00px;font-size:21px;color:#ffffff;-webkit-text-stroke:0.5px #ffffff;transform:scale(1.0190,1.0524)">表箱</div>
<div class="t" style="left:915.10px;top:152.10px;font-size:21px;color:#ffffff;-webkit-text-stroke:0.5px #ffffff;transform:scale(1.0234,0.9955)">户内箱TGPZK系列</div>
<div class="t" style="left:1243.94px;top:179.90px;font-size:18px;color:#ffffff;-webkit-text-stroke:0.5px #ffffff;transform:scale(1.0588,0.9263)">照明</div>
<div class="t" style="left:1244.21px;top:301.18px;font-size:18px;color:#ffffff;-webkit-text-stroke:0.5px #ffffff;transform:scale(1.0135,0.9789)">插座</div>
<div class="t" style="left:1238.20px;top:425.18px;font-size:18px;color:#ffffff;-webkit-text-stroke:0.5px #ffffff;transform:scale(1.0429,0.9789)">空调</div>
<div class="t" style="left:304.00px;top:546.81px;font-size:20px;color:#00AD9D;-webkit-text-stroke:0.45px #00AD9D;transform:scale(0.9541,1.0643)">TGWK</div>
<div class="t" style="left:287.82px;top:572.08px;font-size:18px;color:#00AD9D;-webkit-text-stroke:0.45px #00AD9D;transform:scale(1.0198,0.9789)">框架断路器</div>
<div class="t" style="left:304.40px;top:682.72px;font-size:20px;color:#00AD9D;-webkit-text-stroke:0.45px #00AD9D;transform:scale(0.9746,1.0929)">TGMK</div>
<div class="t" style="left:287.10px;top:708.08px;font-size:18px;color:#00AD9D;-webkit-text-stroke:0.45px #00AD9D;transform:scale(1.0278,0.9789)">塑壳断路器</div>
<div class="t" style="left:553.20px;top:546.74px;font-size:20px;color:#00AD9D;-webkit-text-stroke:0.45px #00AD9D;transform:scale(0.9712,1.0857)">TGMK</div>
<div class="t" style="left:535.40px;top:572.08px;font-size:18px;color:#00AD9D;-webkit-text-stroke:0.45px #00AD9D;transform:scale(1.0300,0.9789)">塑壳断路器</div>
<div class="t" style="left:766.70px;top:546.74px;font-size:20px;color:#00AD9D;-webkit-text-stroke:0.45px #00AD9D;transform:scale(0.8912,1.0857)">TGBK</div>
<div class="t" style="left:745.80px;top:572.26px;font-size:18px;color:#00AD9D;-webkit-text-stroke:0.45px #00AD9D;transform:scale(1.0256,0.9579)">小型断路器</div>
<div class="t" style="left:762.04px;top:680.33px;font-size:20px;color:#00AD9D;-webkit-text-stroke:0.45px #00AD9D;transform:scale(0.9639,1.0571)">DTS256</div>
<div class="t" style="left:723.40px;top:704.70px;font-size:18px;color:#00AD9D;-webkit-text-stroke:0.45px #00AD9D;transform:scale(1.0271,0.9944)">三相电子式电能表</div>
<div class="t" style="left:1025.20px;top:546.74px;font-size:20px;color:#00AD9D;-webkit-text-stroke:0.45px #00AD9D;transform:scale(0.8912,1.0857)">TGBK</div>
<div class="t" style="left:1004.20px;top:572.26px;font-size:18px;color:#00AD9D;-webkit-text-stroke:0.45px #00AD9D;transform:scale(1.0289,0.9579)">小型断路器</div>
<div class="t" style="left:1020.60px;top:680.52px;font-size:20px;color:#00AD9D;-webkit-text-stroke:0.45px #00AD9D;transform:scale(0.8877,1.0929)">TGBK</div>
<div class="t" style="left:999.60px;top:705.98px;font-size:18px;color:#00AD9D;-webkit-text-stroke:0.45px #00AD9D;transform:scale(1.0289,0.9789)">小型断路器</div>
</body></html>
